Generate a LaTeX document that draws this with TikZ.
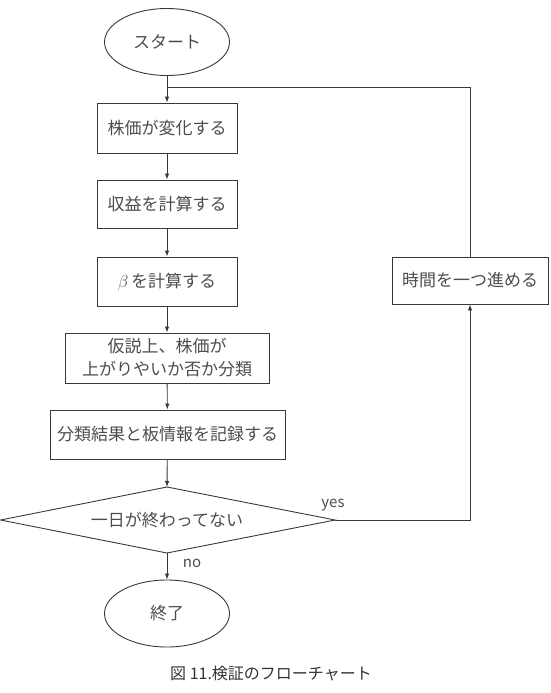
\documentclass[tikz,border=0pt]{standalone}
\usepackage{fontspec}
\setmainfont{Noto Sans CJK JP}
\usetikzlibrary{shapes.geometric,arrows.meta}
\definecolor{linec}{gray}{0.22}
\definecolor{textc}{gray}{0.3}
\tikzset{
  base/.style={draw=linec, line width=0.9pt, text=textc, font=\fontsize{17}{23}\selectfont, inner sep=0pt, align=center},
  procbox/.style={base, rectangle},
  termnode/.style={base, ellipse, minimum width=125pt, minimum height=67pt},
  conn/.style={draw=linec, line width=0.9pt},
  arr/.style={conn, -{Latex[length=6pt,width=4.5pt]}},
  lbl/.style={text=textc, font=\fontsize{15}{17}\selectfont, inner sep=0pt}
}
\begin{document}
\begin{tikzpicture}[x=1pt,y=-1pt]
\useasboundingbox (0,0) rectangle (550,693);
\node[termnode] (start) at (167,42) {スタート};
\node[procbox, minimum width=140pt, minimum height=50pt] (b1) at (167,128) {株価が変化する};
\node[procbox, minimum width=140pt, minimum height=48pt] (b2) at (167,204) {収益を計算する};
\node[procbox, minimum width=140pt, minimum height=49pt] (b3) at (167,281.5) {$\beta$\,を計算する};
\node[procbox, minimum width=204pt, minimum height=50pt] (b4) at (167,358) {仮説上、株価が\\上がりやいか否か分類};
\node[procbox, minimum width=235pt, minimum height=49pt] (b5) at (167.5,434.5) {分類結果と板情報を記録する};
% decision diamond
\coordinate (dT) at (167,487);
\coordinate (dB) at (167,553);
\coordinate (dL) at (0.5,520);
\coordinate (dR) at (335,520);
\draw[conn] (dT) -- (dR) -- (dB) -- (dL) -- cycle;
\node[text=textc, font=\fontsize{17}{23}\selectfont, inner sep=0pt] (dec) at (167,520) {一日が終わってない};
\node[termnode] (end) at (167,613.5) {終了};
\node[procbox, minimum width=156pt, minimum height=47pt] (tb) at (470,280.5) {時間を一つ進める};
\coordinate (j) at (167,87);
\coordinate (tr) at (470,87);
\coordinate (br) at (470,520);

\draw[arr] (start) -- (b1);
\draw[arr] (b1) -- (b2);
\draw[arr] (b2) -- (b3);
\draw[arr] (b3) -- (b4);
\draw[arr] (b4) -- (b5);
\draw[arr] (b5) -- (dT);
\draw[arr] (dB) -- (end);
\draw[arr] (dR) -- (br) -- (tb.south);
\draw[conn] (tb.north) -- (tr) -- (j);

\node[lbl] (yes) at (333,505) {yes};
\node[lbl] (no) at (192,563) {no};
\node[font=\fontsize{16}{18}\selectfont, text=black!80, inner sep=0pt] (cap) at (271,673) {図 11.検証のフローチャート};
\end{tikzpicture}
\end{document}
